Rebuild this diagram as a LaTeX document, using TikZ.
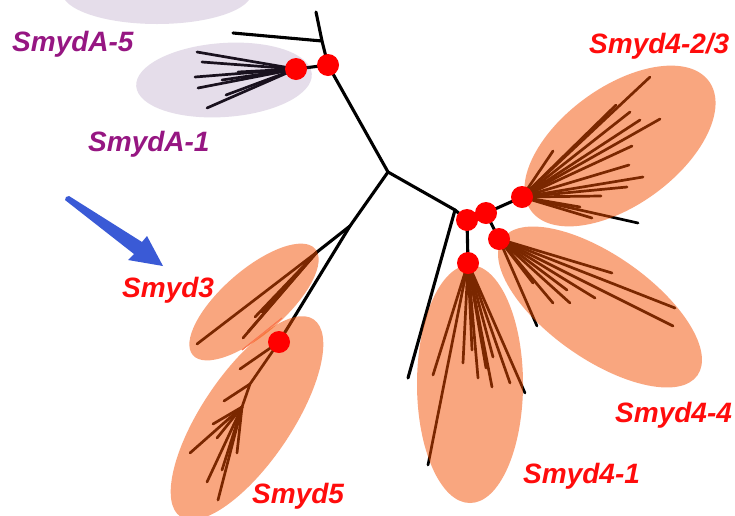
\documentclass[tikz,border=0pt]{standalone}
\usepackage{fontspec}
\setmainfont{Liberation Sans}
\usetikzlibrary{shapes.geometric}

\definecolor{cladefill}{RGB}{245,78,0}
\definecolor{outfill}{RGB}{125,85,150}
\definecolor{labred}{RGB}{255,12,12}
\definecolor{labpurple}{RGB}{150,22,130}
\definecolor{arrowblue}{RGB}{58,90,214}
\definecolor{hubred}{RGB}{255,0,0}
\definecolor{seam}{RGB}{250,120,80}

\tikzset{
  edge/.style={line width=3.1pt, black, line cap=round},
  twig/.style={line width=2.7pt, black, line cap=round},
  hub/.style={circle, fill=hubred, minimum size=22pt, inner sep=0pt},
  clade/.style={ellipse, fill=cladefill, fill opacity=0.5, inner sep=0pt},
  outclade/.style={ellipse, fill=outfill, fill opacity=0.2, inner sep=0pt},
  lab/.style={anchor=base west, inner sep=0pt, font=\fontsize{28}{30}\selectfont\bfseries\itshape},
  redlab/.style={lab, text=labred},
  purplab/.style={lab, text=labpurple}
}

\begin{document}
\begin{tikzpicture}[x=1pt,y=-1pt]
\fill[white] (0,0) rectangle (735,515);
\useasboundingbox (0,0) rectangle (735,515);

% branch points and hub centres
\coordinate (top) at (316,12);
\coordinate (n1) at (322,41);
\coordinate (n1l) at (233,33);
\coordinate (J) at (388,172);
\coordinate (S) at (350,226);
\coordinate (R3) at (317,252);
\coordinate (K) at (455,210);
\coordinate (kend) at (408,378);
\coordinate (pa1) at (296,69);
\coordinate (pa2) at (328,65);
\coordinate (pA) at (467,220);
\coordinate (pB) at (486,213);
\coordinate (pC) at (522,197);
\coordinate (pD) at (499,239);
\coordinate (pE) at (468,263);
\coordinate (pF) at (279,342);

% backbone of the tree
\draw[edge] (top) -- (n1) -- (pa2) -- (J);
\draw[edge] (n1) -- (n1l);
\draw[edge] (pa2) -- (pa1);
\draw[edge] (J) -- (S) -- (R3);
\draw[edge] (S) -- (pF);
\draw[edge] (J) -- (K) -- (pA) -- (pB) -- (pC);
\draw[edge] (K) -- (kend);
\draw[edge] (pB) -- (pD);
\draw[edge] (pA) -- (pE);

% SmydA-1 leaves
\foreach \x/\y [count=\i] in {197/52,202/62,195/77,198/88,207/108,226/95,238/72,222/80}
  {\coordinate (a\i) at (\x,\y); \draw[twig] (pa1) -- (a\i);}

% Smyd4-2/3 leaves
\foreach \x/\y [count=\i] in {650/77,616/105,630/112,640/120,660/119,632/146,629/165,
    643/177,627/187,601/196,553/151,592/218,580/207,638/223}
  {\coordinate (c\i) at (\x,\y); \draw[twig] (pC) -- (c\i);}

% Smyd4-4 leaves
\foreach \x/\y [count=\i] in {612/273,675/308,673/326,595/298,570/303,553/303,537/326,533/283,567/290}
  {\coordinate (d\i) at (\x,\y); \draw[twig] (pD) -- (d\i);}

% Smyd4-1 leaves
\foreach \x/\y [count=\i] in {428/465,433/375,463/363,478/378,492/387,493/357,510/383,525/393,472/350,486/368}
  {\coordinate (e\i) at (\x,\y); \draw[twig] (pE) -- (e\i);}

% Smyd3 leaves
\foreach \x/\y [count=\i] in {197/344,243/338,248/332,255/317,262/312}
  {\coordinate (t\i) at (\x,\y); \draw[twig] (R3) -- (t\i);}

% Smyd5 subtree
\coordinate (f1) at (240,369);
\coordinate (x5) at (250,384);
\coordinate (y5) at (242,407);
\coordinate (f2) at (224,401);
\draw[twig] (pF) -- (f1);
\draw[twig] (pF) -- (x5) -- (y5);
\draw[twig] (x5) -- (f2);
\foreach \x/\y [count=\i] in {190/453,213/424,217/438,207/482,218/500,237/453,222/470}
  {\coordinate (g\i) at (\x,\y); \draw[twig] (y5) -- (g\i);}

% translucent clade outlines
\node[outclade, minimum width=190pt, minimum height=64pt] (oA5) at (157,-8) {};
\node[outclade, minimum width=176pt, minimum height=74pt, rotate=4] (oA1) at (224,80) {};
\node[clade, minimum width=220pt, minimum height=118pt, rotate=36] (o423) at (620,146) {};
\node[clade, minimum width=238pt, minimum height=104pt, rotate=-35] (o44) at (600,307) {};
\node[clade, minimum width=106pt, minimum height=238pt] (o41) at (470,384) {};
\node[clade, minimum width=162pt, minimum height=64pt, rotate=41] (o3) at (254,302) {};
\node[clade, minimum width=238pt, minimum height=90pt, rotate=56] (o5) at (247,418) {};
\draw[seam, line width=1.2pt] (242,350) -- (282,318);

% supported nodes
\node[hub] (a1hub) at (pa1) {};
\node[hub] (a2hub) at (pa2) {};
\node[hub] (Ahub) at (pA) {};
\node[hub] (Bhub) at (pB) {};
\node[hub] (Chub) at (pC) {};
\node[hub] (Dhub) at (pD) {};
\node[hub] (Ehub) at (pE) {};
\node[hub] (Fhub) at (pF) {};

% pointer arrow
\fill[arrowblue] (66,197) -- (69,196) -- (142,242) -- (147,236) -- (163,266)
  -- (128,260) -- (134,254) -- (65,200) -- cycle;

% clade names
\node[purplab] (lA5) at (12,51) {SmydA-5};
\node[purplab] (lA1) at (88,151) {SmydA-1};
\node[redlab] (l423) at (589,53) {Smyd4-2/3};
\node[redlab] (l3) at (122,297) {Smyd3};
\node[redlab] (l5) at (252,503) {Smyd5};
\node[redlab] (l41) at (523,483) {Smyd4-1};
\node[redlab] (l44) at (615,422) {Smyd4-4};
\end{tikzpicture}
\end{document}
